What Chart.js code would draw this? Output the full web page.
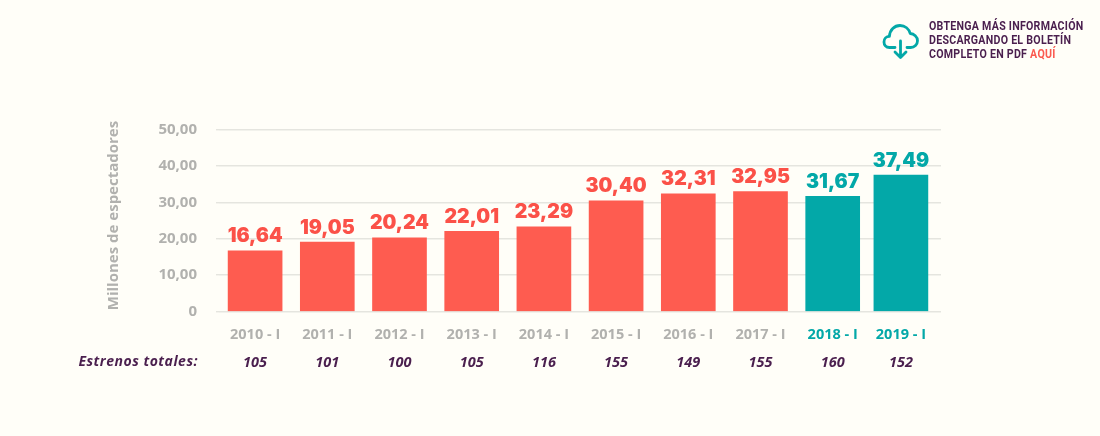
<!DOCTYPE html>
<html lang="es"><head><meta charset="utf-8">
<style>
html,body{margin:0;padding:0;background:#fffef8;width:1100px;height:436px;overflow:hidden}
#wrap{position:relative;width:1100px;height:436px}
canvas{position:absolute;left:0;top:0}
#note{position:absolute;left:929px;top:18.5px;font:700 12.5px/14.4px "Roboto",sans-serif;color:#4a1f4e;white-space:nowrap;letter-spacing:.3px;transform:scaleX(.85);transform-origin:0 0}
#note span{color:#fb5a50}
#icon{position:absolute;left:882px;top:23px}
</style>
<script src="https://cdn.jsdelivr.net/npm/chart.js@4"></script>
</head><body>
<div id="wrap">
<canvas id="c" width="1100" height="436"></canvas>
<svg id="icon" width="38" height="38" viewBox="0 0 38 38" fill="none" stroke="#03a8a8" stroke-width="2.8" stroke-linecap="round" stroke-linejoin="round">
<path d="M13 24.500H7.500C3.800 24.500 2 21.800 2 19c0-3 2.300-5.600 5.400-5.600C7.800 7 12.400 2.500 18 2.500c5 0 9 3.300 10.200 8 3.800.2 7.300 3.300 7.300 7.200 0 3.700-3 6.800-6.800 6.800H25"/>
<path d="M18.500 18v16.500M13 29l5.500 5.500L24 29"/></svg>
<div id="note">OBTENGA MÁS INFORMACIÓN<br>DESCARGANDO EL BOLETÍN<br>COMPLETO EN PDF <span>AQUÍ</span></div>
</div>
<script>
const categories=["2010 - I","2011 - I","2012 - I","2013 - I","2014 - I","2015 - I","2016 - I","2017 - I","2018 - I","2019 - I"];
const spectators=[16.64,19.05,20.24,22.01,23.29,30.40,32.31,32.95,31.67,37.49];
const releases=["105","101","100","105","116","155","149","155","160","152"];
const yTicks=[0,10,20,30,40,50];
const rowTitle="Estrenos totales:";
const yTitle="Millones de espectadores";

const RED="#fe5c50",RED_TXT="#fb5148",TEAL="#03a8a8",GREY="#b1b1ae",PURPLE="#4a1f4e";
const isTeal=i=>i>=8;
const fmt=v=>v===0?"0":v.toFixed(2).replace(".",",");
// the last column sits a little closer to its neighbour in the reference
const nudge=scale=>{
  if(scale.$n)return; scale.$n=1;
  const o=scale.getPixelForValue.bind(scale);
  scale.getPixelForValue=(v,i)=>{const p=o(v,i);return (typeof v==="number"&&v===9)?p-4:p;};
};
const decor={id:"decor",
  afterDatasetsDraw(ch){
    const g=ch.ctx,m=ch.getDatasetMeta(0);
    g.save();g.textAlign="center";g.textBaseline="alphabetic";
    g.font='900 19.5px Inter, sans-serif';
    m.data.forEach((b,i)=>{
      g.fillStyle=isTeal(i)?TEAL:RED_TXT;
      g.fillText(fmt(spectators[i]),b.x,b.y-8.5);
    });
    g.textAlign="right";g.fillStyle=PURPLE;
    g.font='italic 700 14px "Open Sans", sans-serif';
    g.letterSpacing="0.5px";
    g.fillText(rowTitle,198,366);
    g.letterSpacing="0px";
    g.translate(114,215.5);g.rotate(-Math.PI/2);
    g.textAlign="center";g.textBaseline="middle";g.fillStyle=GREY;
    g.font='700 15px "Open Sans", sans-serif';
    g.fillText(yTitle,0,0);
    g.restore();
  }};
new Chart(document.getElementById("c"),{
  type:"bar",
  data:{labels:categories,datasets:[{data:spectators,
    backgroundColor:categories.map((_,i)=>isTeal(i)?TEAL:RED),
    barThickness:54,borderWidth:0}]},
  plugins:[decor],
  options:{
    responsive:false,animation:false,devicePixelRatio:1,
    layout:{padding:{left:0,right:159,top:129.5,bottom:61.5}},
    plugins:{legend:{display:false},tooltip:{enabled:false}},
    scales:{
      x:{type:"category",position:"bottom",offset:true,
        grid:{display:false},border:{display:false},
        afterBuildTicks:nudge,
        afterFit:s=>{s.height=28;},
        ticks:{padding:7,autoSkip:false,maxRotation:0,
          color:c=>isTeal(c.index)?TEAL:GREY,
          font:{family:"'Open Sans'",size:14.5,weight:"700"}}},
      x2:{type:"category",position:"bottom",offset:true,labels:releases,
        grid:{display:false},border:{display:false},
        afterBuildTicks:nudge,
        afterFit:s=>{s.height=35;},
        ticks:{padding:7,autoSkip:false,maxRotation:0,color:PURPLE,
          font:{family:"'Open Sans'",size:14.5,weight:"700",style:"italic"}}},
      y:{min:0,max:50,position:"left",
        afterBuildTicks:s=>{s.ticks=yTicks.map(v=>({value:v}));},
        afterFit:s=>{s.width=219;},
        border:{display:false},
        grid:{color:"#e5e5df",lineWidth:1.4,tickColor:"#e5e5df",tickLength:3},
        ticks:{padding:19,color:GREY,callback:v=>fmt(v),
          font:{family:"'Open Sans'",size:15,weight:"700"}}}
    }
  }
});
</script>
</body></html>
